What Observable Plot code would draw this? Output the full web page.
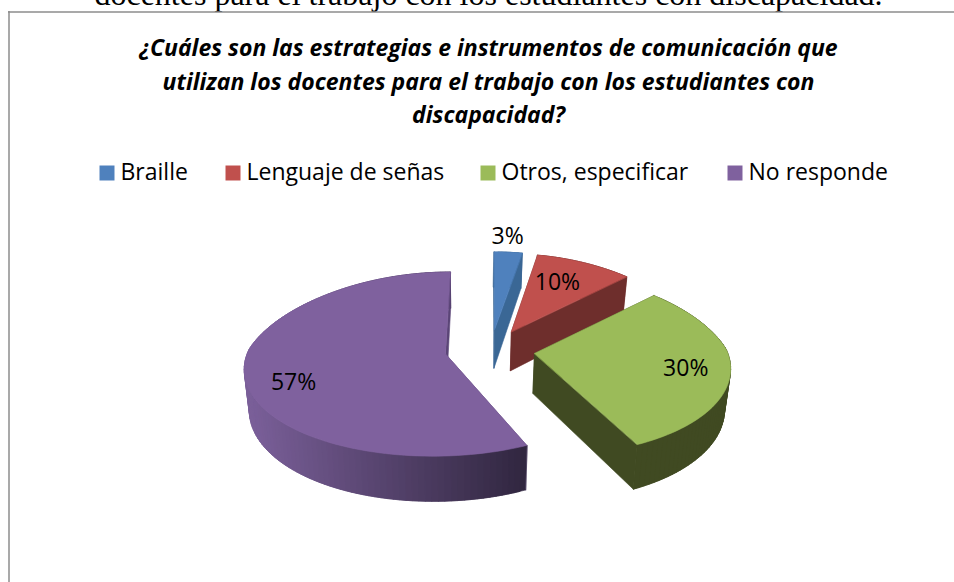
<!DOCTYPE html>
<html lang="es">
<head>
<meta charset="utf-8">
<style>html,body{margin:0;padding:0;background:#fff}svg{display:block}</style>
<script src="https://cdn.jsdelivr.net/npm/d3@7"></script>
<script src="https://cdn.jsdelivr.net/npm/@observablehq/plot@0.6"></script>
</head>
<body>
<script>
const categories = ["Braille", "Lenguaje de señas", "Otros, especificar", "No responde"];
const shares = [3, 10, 30, 57];
const labels = ["3%", "10%", "30%", "57%"];
const topColors = ["#4f81bd", "#c0504d", "#9bbb59", "#7f619e"];
const titleLines = [
  "¿Cuáles son las estrategias e instrumentos de comunicación que",
  "utilizan los docentes para el trabajo con los estudiantes con",
  "discapacidad?"
];
const pageLine = "docentes para el trabajo con los estudiantes con discapacidad.";

// Oblique view of the exploded pie
const view = {cx: 490, cy: 349, aLeft: 197.5, aRight: 192.5, b: 90, d: 9.2, backNarrow: 0.1, frontSpread: 0.15, explode: 0.23, depth: 40, vx: 465, conv: 0.977};
const wallColors = ["#3a6795", "#6e2e2c", "#404a22", null];
const purpleWall = d3.interpolateRgb("#7a5f99", "#30263f");

const arcs = d3.pie().sort(null).value(d => d)(shares);
function project(slice, r, theta, bottom = false) {
  const mid = (slice.startAngle + slice.endAngle) / 2;
  const ex = view.explode * Math.sin(mid), ey = view.explode * Math.cos(mid);
  const v = ey + r * Math.cos(theta);
  const s = view.d / (view.d + v);
  const narrow = 1 - view.backNarrow * Math.max(v, 0);
  const spread = 1 + view.frontSpread * Math.max(-v, 0);
  const u = ex * spread + r * Math.sin(theta) * narrow;
  let x = view.cx + (u < 0 ? view.aLeft : view.aRight) * u * s;
  let y = view.cy - view.b * v * s;
  if (bottom) {
    x = view.vx + (x - view.vx) * view.conv;
    y += view.depth * s;
  }
  return {x, y};
}

const polys = [];
let nextId = 0;
function addPoly(points, color) {
  const id = nextId++;
  for (const p of points) polys.push({x: p.x, y: p.y, id, color});
}
function radialWall(slice, theta, color) {
  addPoly([project(slice, 1, theta), project(slice, 0, theta),
           project(slice, 0, theta, true), project(slice, 1, theta, true)], color);
}
arcs.forEach((slice, i) => {
  const {startAngle: t0, endAngle: t1} = slice;
  const n = Math.max(2, Math.ceil((t1 - t0) / 0.03));
  const purple = i === 3;
  const angles = d3.range(n + 1).map(k => t0 + (t1 - t0) * k / n);
  const wall = purple ? "#5b4577" : wallColors[i];
  radialWall(slice, t0, wall);
  // Each wall strip reaches over the next one, so no seam shows between them
  for (let k = 0; k < n; k++) {
    const far = angles[Math.min(k + 2, n)];
    const a = project(slice, 1, angles[k]), b = project(slice, 1, far);
    const c = project(slice, 1, far, true), e = project(slice, 1, angles[k], true);
    const tone = purple ? purpleWall(Math.max(0, Math.min(1, (a.x - 250) / 280))) : wallColors[i];
    addPoly([a, b, c, e], tone);
  }
  radialWall(slice, t1, wall);
  addPoly([project(slice, 0, t0), ...angles.map(t => project(slice, 1, t))], topColors[i]);
});

// Data label anchors: radius and pixel nudge per slice
const labelPlace = [[1.14, -2, -6], [0.62, -2, -5], [0.77, 1, 2], [0.77, 2, 13]];
const labelRows = arcs.map((slice, i) => {
  const [r, dx, dy] = labelPlace[i];
  const p = project(slice, r, (slice.startAngle + slice.endAngle) / 2);
  return {x: p.x + dx, y: p.y + dy, text: labels[i]};
});

const legendX = [99, 225, 480, 727];
const legendRows = categories.map((c, i) => ({c, x: legendX[i], color: topColors[i]}));
const titleY = [48, 82, 115];
const sans = "'Open Sans', 'Noto Sans', sans-serif";

const chart = Plot.plot({
  width: 954, height: 582,
  marginTop: 0, marginRight: 0, marginBottom: 0, marginLeft: 0,
  x: {domain: [0, 954], axis: null},
  y: {domain: [582, 0], axis: null},
  color: {type: "identity"},
  style: {background: "#fff", overflow: "hidden"},
  marks: [
    Plot.text([pageLine], {x: 488, y: -6, text: d => d, fontFamily: "'Liberation Serif', serif", fontSize: 32, fill: "#000"}),
    Plot.ruleY([11.5], {x1: 8, x2: 954, stroke: "#8c8c8c", strokeWidth: 1.5}),
    Plot.ruleX([8.5], {y1: 11, y2: 582, stroke: "#8c8c8c", strokeWidth: 1.5}),
    Plot.text(titleLines, {x: 488, y: (d, i) => titleY[i], text: d => d, fontFamily: sans, fontSize: 23, fontWeight: "bold", fontStyle: "italic", fill: "#000"}),
    Plot.dot(legendRows, {x: d => d.x + 7.5, y: 172.5, symbol: "square", r: 8.46, fill: "color", stroke: "none"}),
    Plot.text(legendRows, {x: d => d.x + 21, y: 172, text: "c", textAnchor: "start", fontFamily: sans, fontSize: 23, fill: "#000"}),
    Plot.line(polys, {x: "x", y: "y", z: "id", fill: "color", stroke: "color", strokeWidth: 0.6, curve: "linear-closed"}),
    Plot.text(labelRows, {x: "x", y: "y", text: "text", fontFamily: sans, fontSize: 23, fill: "#000"})
  ]
});
document.body.appendChild(chart);
</script>
</body>
</html>
